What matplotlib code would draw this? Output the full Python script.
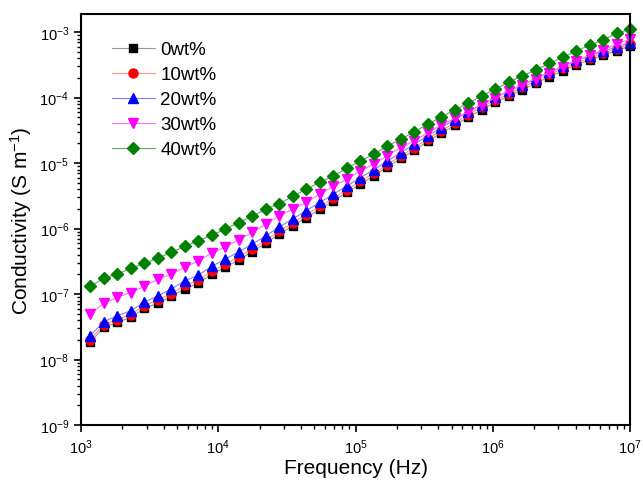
import matplotlib.pyplot as plt
from matplotlib.ticker import LogLocator, NullFormatter

plt.rcParams['font.family'] = ['Liberation Sans', 'DejaVu Sans']
plt.rcParams['mathtext.fontset'] = 'custom'
plt.rcParams['mathtext.rm'] = 'Liberation Sans'
plt.rcParams['mathtext.it'] = 'Liberation Sans:italic'
plt.rcParams['mathtext.bf'] = 'Liberation Sans:bold'

# frequency (Hz)
freq = [1164, 1460, 1831, 2297, 2882, 3614, 4533, 5686, 7132, 8946,
        11220, 14070, 17650, 22140, 27770, 34830, 43690, 54810, 68750, 86230,
        108100, 135700, 170200, 213400, 267700, 335700, 421100, 528200, 662500, 831000,
        1042000, 1307000, 1640000, 2057000, 2580000, 3236000, 4059000, 5091000, 6386000, 8010000,
        10000000]

# conductivity (S/m)
wt0 = [1.83e-8, 3.10e-8, 3.70e-8, 4.41e-8, 6.05e-8, 7.29e-8, 9.23e-8, 1.22e-7, 1.47e-7, 2.02e-7,
       2.56e-7, 3.34e-7, 4.42e-7, 6.01e-7, 8.24e-7, 1.10e-6, 1.48e-6, 1.98e-6, 2.66e-6, 3.57e-6,
       4.78e-6, 6.40e-6, 8.69e-6, 1.18e-5, 1.58e-5, 2.17e-5, 2.87e-5, 3.80e-5, 5.04e-5, 6.56e-5,
       8.45e-5, 1.07e-4, 1.32e-4, 1.66e-4, 2.09e-4, 2.58e-4, 3.19e-4, 3.78e-4, 4.46e-4, 5.22e-4,
       6.15e-4]
wt10 = [2.01e-8, 3.44e-8, 4.10e-8, 4.89e-8, 6.71e-8, 8.09e-8, 1.02e-7, 1.36e-7, 1.63e-7, 2.24e-7,
        2.84e-7, 3.71e-7, 4.91e-7, 6.65e-7, 9.12e-7, 1.22e-6, 1.64e-6, 2.19e-6, 2.92e-6, 3.93e-6,
        5.25e-6, 7.02e-6, 9.53e-6, 1.29e-5, 1.73e-5, 2.37e-5, 3.13e-5, 4.14e-5, 5.48e-5, 7.13e-5,
        9.18e-5, 1.15e-4, 1.44e-4, 1.80e-4, 2.26e-4, 2.79e-4, 3.44e-4, 4.06e-4, 4.80e-4, 5.61e-4,
        6.55e-4]
wt20 = [2.31e-8, 3.78e-8, 4.66e-8, 5.56e-8, 7.47e-8, 9.42e-8, 1.19e-7, 1.60e-7, 1.95e-7, 2.65e-7,
        3.42e-7, 4.42e-7, 5.80e-7, 7.74e-7, 1.06e-6, 1.41e-6, 1.88e-6, 2.51e-6, 3.34e-6, 4.48e-6,
        5.96e-6, 7.94e-6, 1.07e-5, 1.45e-5, 1.93e-5, 2.64e-5, 3.48e-5, 4.59e-5, 6.05e-5, 7.85e-5,
        1.01e-4, 1.26e-4, 1.56e-4, 1.95e-4, 2.45e-4, 3.01e-4, 3.70e-4, 4.36e-4, 5.12e-4, 6.00e-4,
        6.95e-4]
wt30 = [4.95e-8, 7.21e-8, 8.91e-8, 1.06e-7, 1.31e-7, 1.69e-7, 2.02e-7, 2.56e-7, 3.22e-7, 4.23e-7,
        5.27e-7, 6.75e-7, 8.75e-7, 1.17e-6, 1.57e-6, 1.98e-6, 2.51e-6, 3.36e-6, 4.41e-6, 5.70e-6,
        7.63e-6, 9.66e-6, 1.29e-5, 1.74e-5, 2.19e-5, 2.94e-5, 3.80e-5, 4.86e-5, 6.11e-5, 7.82e-5,
        1.00e-4, 1.26e-4, 1.58e-4, 1.96e-4, 2.42e-4, 2.99e-4, 3.65e-4, 4.46e-4, 5.40e-4, 6.56e-4,
        7.82e-4]
wt40 = [1.31e-7, 1.75e-7, 2.02e-7, 2.47e-7, 2.97e-7, 3.54e-7, 4.33e-7, 5.35e-7, 6.51e-7, 7.96e-7,
        9.83e-7, 1.24e-6, 1.54e-6, 1.98e-6, 2.42e-6, 3.10e-6, 4.01e-6, 5.07e-6, 6.40e-6, 8.30e-6,
        1.08e-5, 1.37e-5, 1.80e-5, 2.32e-5, 3.01e-5, 3.94e-5, 5.09e-5, 6.51e-5, 8.24e-5, 1.07e-4,
        1.35e-4, 1.74e-4, 2.15e-4, 2.66e-4, 3.36e-4, 4.11e-4, 5.18e-4, 6.33e-4, 7.63e-4, 9.66e-4,
        1.11e-3]

labels = ['0wt%', '10wt%', '20wt%', '30wt%', '40wt%']
xticks = [1e3, 1e4, 1e5, 1e6, 1e7]
yticks = [1e-9, 1e-8, 1e-7, 1e-6, 1e-5, 1e-4, 1e-3]

fig = plt.figure(figsize=(6.43, 4.81), dpi=100)
ax = fig.add_axes([0.126, 0.114, 0.854, 0.855])

ax.plot(freq, wt0, color='#999999', lw=0.8, marker='s', ms=6, mfc='black', mec='black', label=labels[0], clip_on=False)
ax.plot(freq, wt10, color='#ff9090', lw=0.8, marker='o', ms=6.5, mfc='red', mec='red', label=labels[1], clip_on=False)
ax.plot(freq, wt20, color='#8080ff', lw=0.8, marker='^', ms=7.5, mfc='blue', mec='blue', label=labels[2], clip_on=False)
ax.plot(freq, wt30, color='#ff70ff', lw=0.8, marker='v', ms=7.5, mfc='magenta', mec='magenta', label=labels[3], clip_on=False)
ax.plot(freq, wt40, color='#60a860', lw=0.8, marker='D', ms=6.5, mfc='green', mec='green', label=labels[4], clip_on=False)

ax.set_xscale('log')
ax.set_yscale('log')
ax.set_xlim(1e3, 1e7)
ax.set_ylim(1e-9, 1.9e-3)

ax.set_xticks(xticks)
ax.set_yticks(yticks)
ax.xaxis.set_minor_locator(LogLocator(base=10, subs=range(2, 10), numticks=10))
ax.yaxis.set_minor_locator(LogLocator(base=10, subs=range(2, 10), numticks=10))
ax.xaxis.set_minor_formatter(NullFormatter())
ax.yaxis.set_minor_formatter(NullFormatter())

ax.tick_params(which='major', direction='out', length=5, width=1.2, labelsize=10.5)
ax.tick_params(which='minor', direction='out', length=3, width=1)
for s in ax.spines.values():
    s.set_linewidth(1.5)

ax.set_xlabel('Frequency (Hz)', fontsize=15, labelpad=2)
ax.set_ylabel('Conductivity (S m$^{-1}$)', fontsize=15, labelpad=4)

ax.legend(loc='upper left', bbox_to_anchor=(0.025, 0.975), frameon=False, fontsize=13.5,
          handlelength=2.3, labelspacing=0.42, handletextpad=0.3)

plt.savefig('out.png', dpi=100)
